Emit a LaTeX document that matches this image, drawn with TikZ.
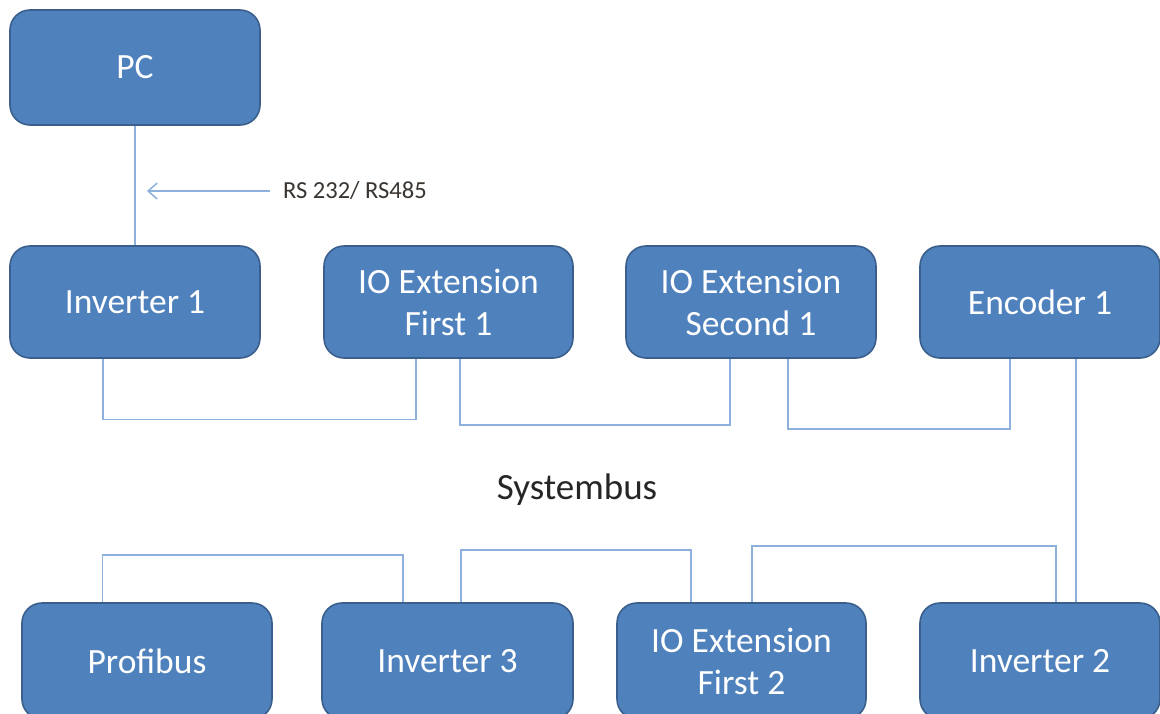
\documentclass[tikz,border=0pt]{standalone}
\usepackage{fontspec}
\setmainfont{Carlito}
\usetikzlibrary{arrows.meta}
\definecolor{boxfill}{HTML}{4F81BD}
\definecolor{boxline}{HTML}{3A5F8C}
\definecolor{busline}{HTML}{8DB0DC}
\definecolor{labeltext}{HTML}{3A3530}
\tikzset{
  unit/.style={draw=boxline, line width=1.6pt, fill=boxfill, rounded corners=20pt,
    minimum height=112pt, inner sep=0pt, text=white, align=center,
    font=\fontsize{35.5}{42}\selectfont},
  bus/.style={draw=busline, line width=1.5pt},
}
\begin{document}
\begin{tikzpicture}[x=1pt,y=-1pt]
\useasboundingbox (0,0) rectangle (1160,713);
\clip (0,0) rectangle (1160,713);
\fill[white] (0,0) rectangle (1160,713);
% top
\node[unit, minimum width=250pt, minimum height=115pt] (pc) at (135,67.5) {PC};
\node[unit, minimum width=250pt] (inv1) at (135,302) {Inverter 1};
\node[unit, minimum width=249pt] (iof1) at (448.5,302) {IO Extension\\First 1};
\node[unit, minimum width=250pt] (ios1) at (751,302) {IO Extension\\Second 1};
\node[unit, minimum width=240pt] (enc1) at (1040,302) {Encoder 1};
% bottom
\node[unit, minimum width=250pt, minimum height=116pt] (prof) at (147,661) {Profibus};
\node[unit, minimum width=251pt, minimum height=116pt] (inv3) at (447.5,661) {Inverter 3};
\node[unit, minimum width=249pt, minimum height=116pt] (iof2) at (741.5,661) {IO Extension\\First 2};
\node[unit, minimum width=240pt, minimum height=116pt] (inv2) at (1040,661) {Inverter 2};
% labels
\node[anchor=west, inner sep=0pt, text=labeltext, font=\fontsize{24.5}{28}\selectfont] (rs) at (283,191) {RS 232/ RS485};
\node[inner sep=0pt, text=black!85, font=\fontsize{37}{42}\selectfont] (sysbus) at (577,490) {Systembus};
\coordinate (tip) at (147,191);
% connectors
\draw[bus] (pc.south) -- (inv1.north);
\draw[bus, -{Straight Barb[length=9pt,width=16pt,line width=1.5pt]}] ([xshift=-13pt]rs.west) -- (tip);
\draw[bus] ([xshift=-32pt]inv1.south) -- ++(0,60.5) -| ([xshift=-32.5pt]iof1.south);
\draw[bus] ([xshift=11.5pt]iof1.south) -- ++(0,66) -| ([xshift=-21pt]ios1.south);
\draw[bus] ([xshift=37pt]ios1.south) -- ++(0,70) -| ([xshift=-30pt]enc1.south);
\draw[bus] ([xshift=36pt]enc1.south) -- ([xshift=36pt]inv2.north);
\draw[bus] ([xshift=-44.5pt]prof.north) -- ++(0,-47) -| ([xshift=-44.5pt]inv3.north);
\draw[bus] ([xshift=13.5pt]inv3.north) -- ++(0,-52) -| ([xshift=-50.5pt]iof2.north);
\draw[bus] ([xshift=10.5pt]iof2.north) -- ++(0,-56) -| ([xshift=16pt]inv2.north);
\end{tikzpicture}
\end{document}
